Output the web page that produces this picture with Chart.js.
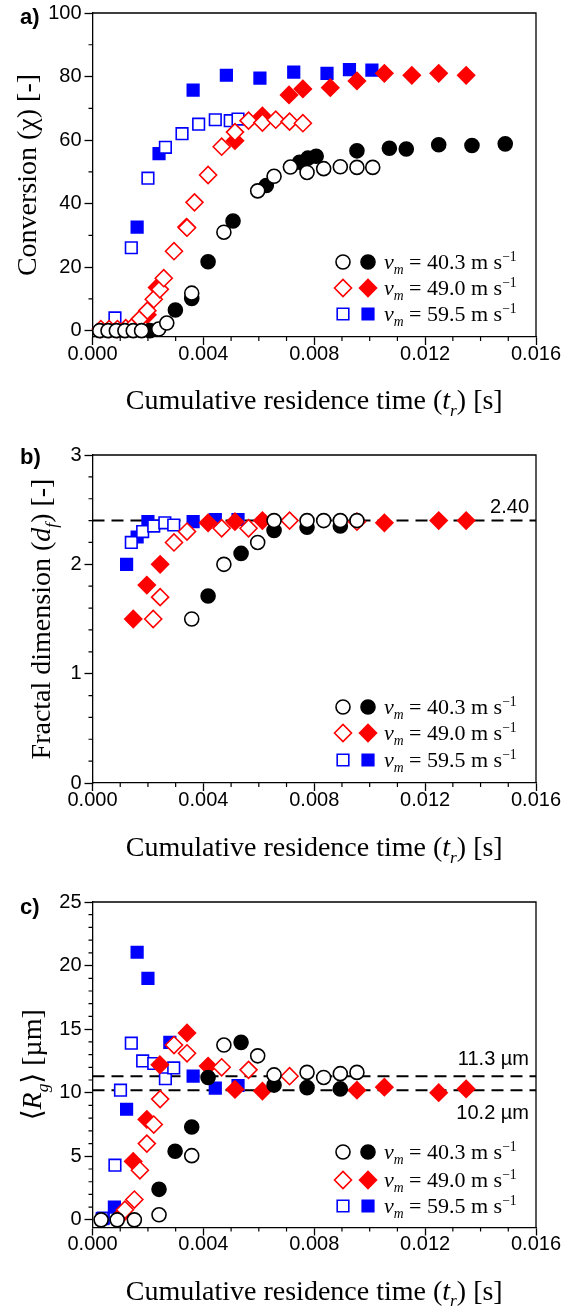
<!DOCTYPE html>
<html><head><meta charset="utf-8">
<script src="https://cdn.jsdelivr.net/npm/chart.js@4/dist/chart.umd.min.js"></script>
<style>
html,body{margin:0;padding:0;background:#fff;}
body{width:567px;height:1311px;position:relative;overflow:hidden;}
.p{position:absolute;left:0;width:567px;}
</style></head><body>
<div class="p" style="top:0;height:440px"><canvas id="ca"></canvas></div>
<div class="p" style="top:440px;height:430px"><canvas id="cb"></canvas></div>
<div class="p" style="top:870px;height:441px"><canvas id="cc"></canvas></div>
<script>
// ---------- tick labels ----------
const xTickValues = [0, 0.004, 0.008, 0.012, 0.016];
const xTickLabels = ['0.000', '0.004', '0.008', '0.012', '0.016'];
const aYTicks = [0, 20, 40, 60, 80, 100];
const bYTicks = [0, 1, 2, 3];
const cYTicks = [0, 5, 10, 15, 20, 25];
const speeds = ['40.3', '49.0', '59.5'];

// ---------- panel a: conversion ----------
const a40OpenT = [0.00026,0.00056,0.00086,0.00117,0.00147,0.00177,0.00239,0.00268,0.00358,0.00474,0.00596,0.00655,0.00714,0.00774,0.00834,0.00894,0.00954,0.01011];
const a40OpenY = [0,0,0,0,0,0,0.5,2.4,11.8,31,44,48.6,51.5,49.8,51,51.6,51.4,51.4];
const a40FillT = [0.00207,0.00299,0.00358,0.00417,0.00507,0.00627,0.00747,0.00777,0.00807,0.00954,0.01071,0.01132,0.01249,0.01369,0.01489];
const a40FillY = [0,6.5,10.1,21.7,34.5,45.7,53,54.3,54.9,56.6,57.4,57.2,58.5,58.3,58.8];
const a49OpenT = [0.0003,0.0006,0.0009,0.0012,0.00147,0.00171,0.00198,0.00221,0.00243,0.00257,0.00294,0.00341,0.00368,0.00417,0.00466,0.00514,0.00563,0.00613,0.00661,0.00711,0.00759];
const a49OpenY = [0.5,0.5,0.5,0.8,1.5,3.7,6.3,9.9,13,16.5,25,32.4,40.4,49,57.9,62.5,66.1,65.5,66.4,65.8,65.3];
const a49FillT = [0.00198,0.00233,0.00339,0.00514,0.00613,0.00709,0.00759,0.00858,0.00954,0.01053,0.01152,0.01249,0.01348];
const a49FillY = [5,13.6,32.6,59.8,67.6,74.2,76.1,76.5,78.6,81,80.4,81,80.4];
const a59OpenT = [0.00081,0.0014,0.002,0.00263,0.00323,0.00383,0.00443,0.00497,0.00525];
const a59OpenY = [4,26.1,48,57.7,62,65,66.4,66.1,66.6];
const a59FillT = [0.00161,0.0024,0.00363,0.00483,0.00604,0.00726,0.00846,0.00927,0.01008];
const a59FillY = [32.6,55.7,75.7,80.4,79.5,81.4,81,82.2,82];

// ---------- panel b: fractal dimension ----------
const b40OpenT = [0.00358,0.00474,0.00596,0.00655,0.00774,0.00834,0.00894,0.00954];
const b40OpenY = [1.5,2.0,2.2,2.4,2.4,2.4,2.4,2.4];
const b40FillT = [0.00417,0.00536,0.00655,0.00774,0.00894];
const b40FillY = [1.71,2.1,2.31,2.34,2.35];
const b49OpenT = [0.00219,0.00244,0.00294,0.00341,0.00466,0.00563,0.00711,0.00954];
const b49OpenY = [1.5,1.7,2.2,2.3,2.33,2.33,2.4,2.39];
const b49FillT = [0.00147,0.00196,0.00244,0.00417,0.00514,0.00613,0.01053,0.01249,0.01348];
const b49FillY = [1.5,1.81,2.0,2.38,2.39,2.4,2.38,2.4,2.4];
const b59OpenT = [0.0014,0.00181,0.00221,0.00261,0.00293];
const b59OpenY = [2.2,2.3,2.35,2.38,2.36];
const b59FillT = [0.00123,0.00161,0.002,0.00363,0.00443,0.00525];
const b59FillY = [2.0,2.25,2.39,2.39,2.41,2.41];
const dfLine = 2.40;
const dfLineLabel = '2.40';

// ---------- panel c: radius of gyration ----------
const c40OpenT = [0.00031,0.00089,0.00151,0.0024,0.00358,0.00474,0.00596,0.00655,0.00774,0.00834,0.00894,0.00954];
const c40OpenY = [0,0,0,0.4,5.05,13.75,12.9,11.4,11.6,11.2,11.5,11.6];
const c40FillT = [0.0024,0.00298,0.00358,0.00417,0.00536,0.00655,0.00774,0.00894];
const c40FillY = [2.4,5.4,7.3,11.2,13.96,10.6,10.4,10.3];
const c49OpenT = [0.00117,0.00151,0.00171,0.00196,0.00221,0.00244,0.00294,0.00341,0.00466,0.00563,0.00711];
const c49OpenY = [0.8,1.6,3.9,6.0,7.5,9.5,13.75,13.1,12.0,11.8,11.3];
const c49FillT = [0.00105,0.00147,0.00196,0.00243,0.00341,0.00417,0.00514,0.00613,0.00954,0.01053,0.01249,0.01348];
const c49FillY = [0.4,4.6,7.9,12.2,14.7,12.1,10.26,10.13,10.2,10.44,10.0,10.3];
const c59OpenT = [0.00035,0.00081,0.00101,0.0014,0.00181,0.00221,0.00263,0.00293];
const c59OpenY = [0.1,4.3,10.2,13.9,12.5,12.3,11.1,11.95];
const c59FillT = [0.00039,0.00079,0.00123,0.00161,0.002,0.00279,0.00363,0.00443,0.00525];
const c59FillY = [0.13,1.0,8.7,21.05,19.0,13.96,11.3,10.36,10.57];
const rgLines = [11.3, 10.2];
const rgLineLabels = ['11.3 \u00b5m', '10.2 \u00b5m'];

// ---------- styles ----------
const SERIF = '"Liberation Serif","Times New Roman","DejaVu Serif",serif';
const SANS = '"Liberation Sans",Arial,"DejaVu Sans",sans-serif';
const RED = '#ff0000', BLUE = '#0000ff', BLACK = '#000000';
const MARK = [
  {pointStyle:'circle', pointRadius:7, bg:'#ffffff', fg:BLACK},
  {pointStyle:'circle', pointRadius:7, bg:BLACK, fg:BLACK},
  {pointStyle:'rectRot', pointRadius:8.5, bg:'#ffffff', fg:RED},
  {pointStyle:'rectRot', pointRadius:8.5, bg:RED, fg:RED},
  {pointStyle:'rect', pointRadius:8.2, bg:'#ffffff', fg:BLUE},
  {pointStyle:'rect', pointRadius:8.2, bg:BLUE, fg:BLUE}
];

const pts = (t, y) => t.map((v, i) => ({x: v, y: y[i]}));
function series(list) {
  return list.map((d, k) => ({
    label: 'v_m = ' + speeds[Math.floor(k / 2)] + (k % 2 ? ' (filled)' : ' (open)'),
    data: d,
    pointStyle: MARK[k].pointStyle,
    pointRadius: MARK[k].pointRadius,
    pointHoverRadius: MARK[k].pointRadius,
    pointBackgroundColor: MARK[k].bg,
    pointBorderColor: MARK[k].fg,
    backgroundColor: MARK[k].bg,
    borderColor: MARK[k].fg,
    pointBorderWidth: 1.6,
    showLine: false,
    order: k + 1,
    clip: false
  }));
}
function hline(v) {
  return {label: 'ref ' + v, data: [{x: 0, y: v}, {x: 0.016, y: v}], showLine: true,
    pointRadius: 0, borderColor: BLACK, borderWidth: 2, borderDash: [12, 7], order: 20, clip: false};
}

// ---------- rich text ----------
function segFont(s, size) {
  const sz = (s.sub || s.sup) ? size * 0.62 : size;
  return (s.i ? 'italic ' : '') + sz.toFixed(2) + 'px ' + SERIF;
}
function richWidth(ctx, segs, size) {
  let w = 0;
  for (const s of segs) { ctx.font = segFont(s, size); w += ctx.measureText(s.t).width; }
  return w;
}
function drawRich(ctx, segs, x, y, size, align) {
  const w = richWidth(ctx, segs, size);
  let cx = align === 'center' ? x - w / 2 : (align === 'right' ? x - w : x);
  ctx.textAlign = 'left'; ctx.textBaseline = 'alphabetic';
  for (const s of segs) {
    ctx.font = segFont(s, size);
    const dy = s.sub ? size * 0.24 : (s.sup ? -size * 0.36 : 0);
    ctx.fillText(s.t, cx, y + dy);
    cx += ctx.measureText(s.t).width;
  }
}
const xTitle = [{t:'Cumulative residence time ('},{t:'t',i:true},{t:'r',i:true,sub:true},{t:') [s]'}];
const legendText = sp => [{t:'v',i:true},{t:'m',i:true,sub:true},{t:' = ' + sp + ' m s'},{t:'\u22121',sup:true}];

const deco = {
  id: 'deco',
  afterDraw(chart, args, o) {
    const ctx = chart.ctx, a = chart.chartArea;
    const xs = chart.scales.x, ys = chart.scales.y;
    ctx.save();
    ctx.strokeStyle = BLACK; ctx.fillStyle = BLACK;
    // frame top/right
    ctx.lineWidth = 1.3;
    ctx.beginPath();
    ctx.moveTo(a.left, a.top); ctx.lineTo(a.right, a.top); ctx.lineTo(a.right, a.bottom);
    ctx.stroke();
    // minor ticks
    ctx.lineWidth = 1.2;
    ctx.beginPath();
    for (let k = 1; k * o.xMinor < xs.max - 1e-12; k++) {
      const v = k * o.xMinor;
      if (Math.abs(v / 0.004 - Math.round(v / 0.004)) < 1e-6) continue;
      const p = xs.getPixelForValue(v);
      ctx.moveTo(p, a.bottom); ctx.lineTo(p, a.bottom + 4);
    }
    for (let k = 0; k * o.yMinor <= ys.max + 1e-9; k++) {
      const v = k * o.yMinor;
      if (Math.abs(v / o.yMajor - Math.round(v / o.yMajor)) < 1e-6) continue;
      const p = ys.getPixelForValue(v);
      ctx.moveTo(a.left, p); ctx.lineTo(a.left - 4, p);
    }
    ctx.stroke();
    // x title
    drawRich(ctx, xTitle, (a.left + a.right) / 2, a.bottom + o.xTitleDy, 28, 'center');
    // y title
    ctx.save();
    ctx.translate(o.yTitleX, (a.top + a.bottom) / 2);
    ctx.rotate(-Math.PI / 2);
    drawRich(ctx, o.yTitle, 0, 9, 28, 'center');
    ctx.restore();
    // panel label
    ctx.font = 'bold 22px ' + SANS; ctx.textAlign = 'left'; ctx.textBaseline = 'middle';
    ctx.fillText(o.panel, 20, a.top + o.panelDy);
    // legend
    o.legendRows.forEach((dy, i) => {
      const y = a.bottom + dy;
      [0, 1].forEach(j => {
        const m = MARK[i * 2 + j];
        ctx.fillStyle = m.bg; ctx.strokeStyle = m.fg; ctx.lineWidth = 1.6;
        Chart.helpers.drawPoint(ctx, {pointStyle: m.pointStyle, radius: m.pointRadius, borderWidth: 1.6, rotation: 0}, j ? 368 : 343, y);
      });
      ctx.fillStyle = BLACK;
      drawRich(ctx, legendText(speeds[i]), 384, y + 7, 22, 'left');
    });
    // reference line labels
    ctx.fillStyle = BLACK;
    ctx.font = '20px ' + SANS; ctx.textAlign = 'right'; ctx.textBaseline = 'alphabetic';
    (o.refLabels || []).forEach(r => {
      ctx.fillText(r.text, 529, ys.getPixelForValue(r.value) + r.dy);
    });
    ctx.restore();
  }
};

function makeChart(id, datasets, yMin, yMax, yTicks, yLabelFmt, topPad, xAxisH, decoOpts) {
  return new Chart(document.getElementById(id), {
    type: 'scatter',
    data: {datasets},
    plugins: [deco],
    options: {
      responsive: true, maintainAspectRatio: false, animation: false,
      layout: {padding: {left: 0, right: 31, top: topPad, bottom: 0}},
      plugins: {legend: {display: false}, tooltip: {enabled: false}, deco: decoOpts},
      scales: {
        x: {
          type: 'linear', min: 0, max: 0.016,
          afterBuildTicks: s => { s.ticks = xTickValues.map(v => ({value: v})); },
          afterFit: s => { s.height = xAxisH; },
          ticks: {autoSkip: false, maxRotation: 0, color: BLACK, padding: -1,
            font: {family: SANS, size: 20, lineHeight: 1},
            callback: (v, i) => xTickLabels[i]},
          grid: {drawOnChartArea: false, drawTicks: true, tickLength: 8, tickColor: BLACK, tickWidth: 1.3},
          border: {display: true, color: BLACK, width: 1.3}
        },
        y: {
          type: 'linear', min: yMin, max: yMax,
          afterBuildTicks: s => { s.ticks = yTicks.map(v => ({value: v})); },
          afterFit: s => { s.width = 92.5; },
          ticks: {autoSkip: false, color: BLACK, padding: 3,
            font: {family: SANS, size: 20, lineHeight: 1},
            callback: (v, i) => yLabelFmt(yTicks[i])},
          grid: {drawOnChartArea: false, drawTicks: true, tickLength: 8, tickColor: BLACK, tickWidth: 1.3},
          border: {display: true, color: BLACK, width: 1.3}
        }
      }
    }
  });
}

makeChart('ca', series([
  pts(a40OpenT, a40OpenY), pts(a40FillT, a40FillY),
  pts(a49OpenT, a49OpenY), pts(a49FillT, a49FillY),
  pts(a59OpenT, a59OpenY), pts(a59FillT, a59FillY)]),
  -2, 100, aYTicks, v => String(v), 11, 103,
  {panel: 'a)', panelDy: 5, yTitleX: 27, xTitleDy: 72, xMinor: 0.001, yMinor: 10, yMajor: 20,
   legendRows: [-75, -49, -23],
   yTitle: [{t:'Conversion ('},{t:'\u03c7'},{t:') [-]'}]});

makeChart('cb', series([
  pts(b40OpenT, b40OpenY), pts(b40FillT, b40FillY),
  pts(b49OpenT, b49OpenY), pts(b49FillT, b49FillY),
  pts(b59OpenT, b59OpenY), pts(b59FillT, b59FillY)]).concat([hline(dfLine)]),
  0, 3, bYTicks, v => String(v), 15, 87,
  {panel: 'b)', panelDy: 3, yTitleX: 41, xTitleDy: 73, xMinor: 0.001, yMinor: 0.2, yMajor: 1,
   legendRows: [-76, -50, -23],
   refLabels: [{value: dfLine, text: dfLineLabel, dy: -8}],
   yTitle: [{t:'Fractal dimension ('},{t:'d',i:true},{t:'f',i:true,sub:true},{t:') [-]'}]});

makeChart('cc', series([
  pts(c40OpenT, c40OpenY), pts(c40FillT, c40FillY),
  pts(c49OpenT, c49OpenY), pts(c49FillT, c49FillY),
  pts(c59OpenT, c59OpenY), pts(c59FillT, c59FillY)]).concat(rgLines.map(hline)),
  -0.6, 25, cYTicks, v => String(v), 32, 83.5,
  {panel: 'c)', panelDy: 6, yTitleX: 32, xTitleDy: 72, xMinor: 0.001, yMinor: 1, yMajor: 5,
   legendRows: [-75.5, -47.5, -21.5],
   refLabels: [{value: rgLines[0], text: rgLineLabels[0], dy: -11}, {value: rgLines[1], text: rgLineLabels[1], dy: 29}],
   yTitle: [{t:'\u27e8'},{t:'R',i:true},{t:'g',i:true,sub:true},{t:'\u27e9 [\u00b5m]'}]});
</script>
</body></html>
